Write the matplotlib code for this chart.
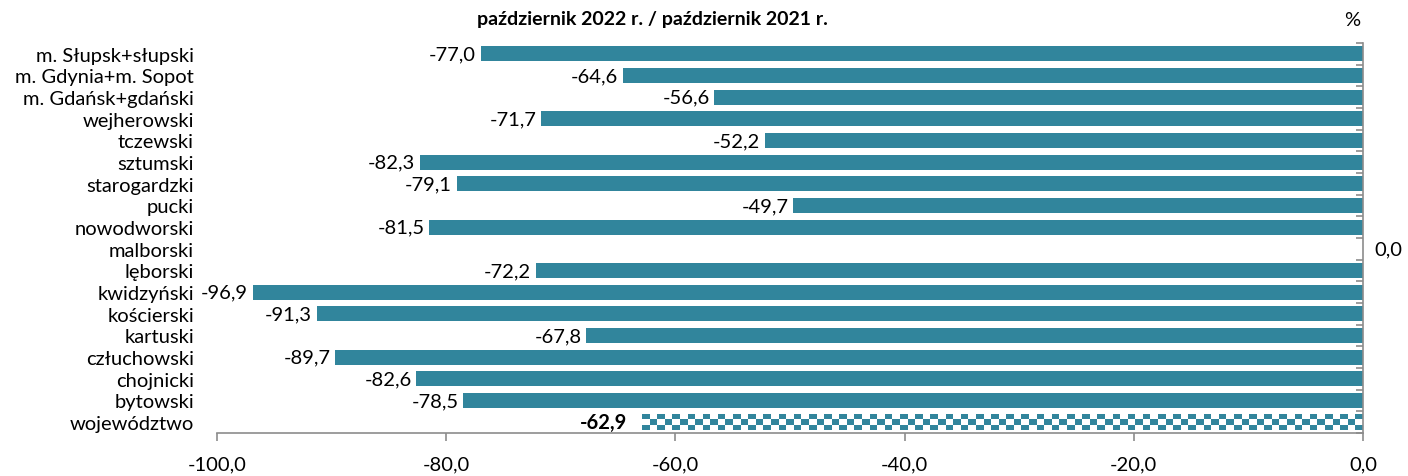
import matplotlib
matplotlib.use("Agg")
import matplotlib.pyplot as plt
import numpy as np

plt.rcParams['font.family'] = ['Lato', 'DejaVu Sans']

regions = ['m. Słupsk+słupski', 'm. Gdynia+m. Sopot', 'm. Gdańsk+gdański',
           'wejherowski', 'tczewski', 'sztumski', 'starogardzki', 'pucki',
           'nowodworski', 'malborski', 'lęborski', 'kwidzyński', 'kościerski',
           'kartuski', 'człuchowski', 'chojnicki', 'bytowski', 'województwo']
values = [-77.0, -64.6, -56.6, -71.7, -52.2, -82.3, -79.1, -49.7, -81.5, 0.0,
          -72.2, -96.9, -91.3, -67.8, -89.7, -82.6, -78.5, -62.9]
xticks = [-100, -80, -60, -40, -20, 0]

teal = '#31859C'
grey = '#8c8c8c'
fs = 14.5

fig = plt.figure(figsize=(14.08, 4.77), dpi=100)
ax = fig.add_axes([217/1408, 1 - 434/477, (1363-217)/1408, (434-44)/477])

n = len(regions)
y = np.arange(n)
bars = ax.barh(y, values, height=0.7, color=teal, linewidth=0)

# checkered fill for the voivodeship total
tot = bars[-1]
tot.set_facecolor('white')
x0, x1 = tot.get_x(), tot.get_x() + tot.get_width()
y0, y1 = tot.get_y(), tot.get_y() + tot.get_height()
nx = int(round(abs(tot.get_width()) * 1146 / 100 / 7.6))
chk = (np.add.outer(np.arange(3), np.arange(nx)) % 2).astype(float)
cmap = matplotlib.colors.ListedColormap([teal, 'white'])
ax.imshow(chk, extent=[min(x0, x1), max(x0, x1), y1, y0], cmap=cmap,
          interpolation='nearest', aspect='auto', clip_path=tot, zorder=2)

def fmt(v):
    return f'{v:.1f}'.replace('.', ',')

for i, v in enumerate(values):
    if v == 0:
        ax.text(1.0, i, fmt(v), ha='left', va='center', fontsize=fs)
    elif regions[i] == 'województwo':
        ax.text(v - 1.3, i, fmt(v), ha='right', va='center', fontsize=fs, fontweight='bold')
    else:
        ax.text(v - 0.4, i, fmt(v), ha='right', va='center', fontsize=fs)

ax.set_xlim(-100, 0)
ax.set_ylim(n - 0.5, -0.5)
ax.set_xticks(xticks)
ax.set_xticklabels([fmt(t) for t in xticks], fontsize=fs)
ax.set_yticks(y)
ax.set_yticklabels(regions, fontsize=fs)
ax.set_yticks(np.arange(n + 1) - 0.5, minor=True)

ax.tick_params(axis='y', which='major', left=False, right=False, pad=13)
ax.tick_params(axis='y', which='minor', left=False, right=True, direction='in', length=5, color=grey, width=1.2)
ax.tick_params(axis='x', direction='out', length=6, color=grey, width=1.2, pad=10)

for s in ['top', 'left']:
    ax.spines[s].set_visible(False)
for s in ['bottom', 'right']:
    ax.spines[s].set_color(grey)
    ax.spines[s].set_linewidth(1.2)

fig.text(652/1408, 1 - 20/477, 'październik 2022 r. / październik 2021 r.',
         ha='center', va='center', fontsize=14, fontweight='bold')
fig.text(1352/1408, 1 - 20/477, '%', ha='center', va='center', fontsize=fs)

fig.savefig('out.png', dpi=100)
